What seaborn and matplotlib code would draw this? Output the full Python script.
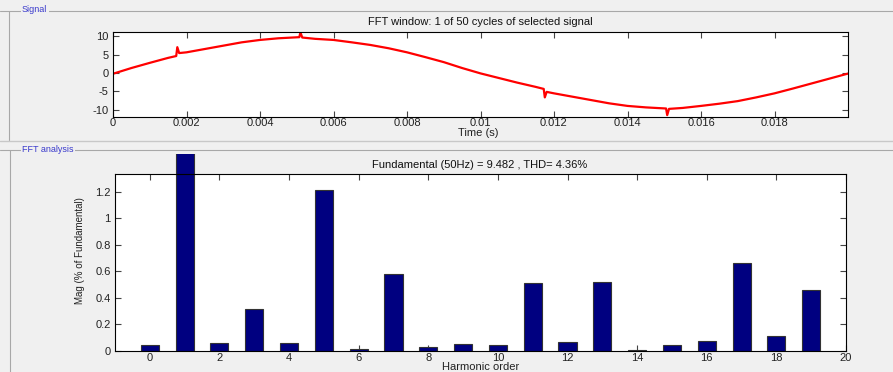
import matplotlib
matplotlib.use("Agg")
import matplotlib.pyplot as plt
from matplotlib.lines import Line2D
from matplotlib.patches import Rectangle
import seaborn as sns
import pandas as pd

# ---------------- data ----------------
sig_time = [0.0, 0.0005, 0.001, 0.0015, 0.00172, 0.00175, 0.0018, 0.002, 0.0025, 0.003,
            0.0035, 0.004, 0.0045, 0.00507, 0.0051, 0.00515, 0.0055, 0.006, 0.0065, 0.007,
            0.0075, 0.008, 0.0085, 0.009, 0.0095, 0.01, 0.0105, 0.011, 0.0115, 0.01172,
            0.01175, 0.0118, 0.012, 0.0125, 0.013, 0.0135, 0.014, 0.0145, 0.01505, 0.01508,
            0.01513, 0.0155, 0.016, 0.0165, 0.017, 0.0175, 0.018, 0.0185, 0.019, 0.0195, 0.02]
sig_value = [-0.2, 1.35, 2.75, 4.1, 4.6, 7.0, 5.4, 5.6, 6.5, 7.4,
             8.3, 8.95, 9.4, 9.7, 11.0, 9.6, 9.25, 8.95, 8.3, 7.6,
             6.7, 5.6, 4.3, 2.95, 1.35, -0.1, -1.35, -2.6, -3.75, -4.3,
             -6.6, -5.1, -5.5, -6.4, -7.3, -8.2, -8.9, -9.3, -9.6, -11.4,
             -9.7, -9.45, -8.9, -8.3, -7.6, -6.6, -5.5, -4.2, -2.85, -1.5, -0.15]

harmonic = list(range(20))
magnitude = [0.045, 100.0, 0.06, 0.315, 0.063, 1.215, 0.015, 0.579, 0.033, 0.053,
             0.045, 0.513, 0.068, 0.518, 0.005, 0.045, 0.073, 0.664, 0.113, 0.46]

sig_xticks = [0, 0.002, 0.004, 0.006, 0.008, 0.01, 0.012, 0.014, 0.016, 0.018]
sig_xticklabels = ["0", "0.002", "0.004", "0.006", "0.008", "0.01", "0.012", "0.014", "0.016", "0.018"]
sig_yticks = [-10, -5, 0, 5, 10]
fft_xticks = [0, 2, 4, 6, 8, 10, 12, 14, 16, 18, 20]
fft_yticks = [0, 0.2, 0.4, 0.6, 0.8, 1.0, 1.2]
fft_yticklabels = ["0", "0.2", "0.4", "0.6", "0.8", "1", "1.2"]

signal_title = "FFT window: 1 of 50 cycles of selected signal"
fft_title = "Fundamental (50Hz) = 9.482 , THD= 4.36%"

# ---------------- figure ----------------
sns.set_style("ticks")
plt.rcParams['font.family'] = ['Liberation Sans', 'DejaVu Sans']
plt.rcParams['axes.unicode_minus'] = False
W, H = 893, 372
BG = "#f0f0f0"
fig = plt.figure(figsize=(W / 100, H / 100), dpi=100, facecolor=BG)

def fx(px):
    return px / W

def fy(py):
    return 1 - py / H

# panel frames (group boxes)
frame_col = "#a8a8a8"
fig.add_artist(Line2D([fx(0), fx(W)], [fy(10.5), fy(10.5)], color=frame_col, lw=0.8))
fig.add_artist(Line2D([fx(9), fx(9)], [fy(10.5), fy(140)], color=frame_col, lw=0.8))
fig.add_artist(Line2D([fx(0), fx(W)], [fy(140.5), fy(140.5)], color="#c8c8c8", lw=1.0))
fig.add_artist(Line2D([fx(0), fx(W)], [fy(149.5), fy(149.5)], color=frame_col, lw=0.8))
fig.add_artist(Line2D([fx(10), fx(10)], [fy(149.5), fy(H)], color=frame_col, lw=0.8))
for txt, ypx in [("Signal", 9), ("FFT analysis", 149)]:
    fig.text(fx(22), fy(ypx), txt, color="#3a3acc", fontsize=6.5, ha="left", va="center",
             bbox=dict(facecolor=BG, edgecolor="none", pad=1.0))

tick_col = "#222222"

def style_axes(ax, xpad):
    ax.set_facecolor("white")
    for s in ax.spines.values():
        s.set_visible(True)
        s.set_color("black")
        s.set_linewidth(0.8)
    ax.tick_params(direction="in", length=4, width=0.8, colors="#444444",
                   labelcolor=tick_col, labelsize=8, top=True, right=True)
    ax.tick_params(axis="y", pad=3)
    ax.tick_params(axis="x", pad=xpad)

# ---- signal axes ----
ax1 = fig.add_axes([fx(113), fy(117), fx(848 - 113), (117 - 32) / H])
sig_df = pd.DataFrame({"t": sig_time, "v": sig_value})
sns.lineplot(data=sig_df, x="t", y="v", ax=ax1, color="#ff0000", lw=1.6, estimator=None)
ax1.set_xlim(0, 0.02)
ax1.set_ylim(-11.9, 11.1)
ax1.set_xticks(sig_xticks, sig_xticklabels)
ax1.set_yticks(sig_yticks)
style_axes(ax1, 1)
ax1.set_xlabel("Time (s)", fontsize=8, color=tick_col, va="center")
ax1.xaxis.set_label_coords(0.497, (117 - 133.5) / 85)
ax1.set_ylabel("")
fig.text(fx(480), fy(22), signal_title, fontsize=8, ha="center", va="center", color="#111111")

# ---- FFT axes ----
ax2 = fig.add_axes([fx(115), fy(351), fx(846 - 115), (351 - 174) / H])
fft_df = pd.DataFrame({"h": harmonic, "m": magnitude})
sns.barplot(data=fft_df, x="h", y="m", ax=ax2, native_scale=True, width=0.52,
            color="#000080", saturation=1, edgecolor="#333333", linewidth=0.8, errorbar=None)
ax2.set_xlim(-1, 20)
ax2.set_ylim(0, 1.335)
ax2.set_xticks(fft_xticks)
ax2.set_yticks(fft_yticks, fft_yticklabels)
style_axes(ax2, 1.5)
ax2.set_xlabel("Harmonic order", fontsize=8, color=tick_col, va="center")
ax2.xaxis.set_label_coords(0.5, (351 - 367.5) / 177)
ax2.set_ylabel("Mag (% of Fundamental)", fontsize=7, color=tick_col, va="center")
ax2.yaxis.set_label_coords((80 - 115) / 731, 0.565)
fig.text(fx(480), fy(165), fft_title, fontsize=8, ha="center", va="center", color="#111111")

# bars may extend above the axes (fundamental), clipped at panel top
clip_rect = Rectangle((fx(100), fy(351)), fx(760), fy(154) - fy(351),
                      transform=fig.transFigure, facecolor="none", edgecolor="none")
fig.add_artist(clip_rect)
for p in ax2.patches:
    p.set_clip_path(clip_rect)

fig.savefig("out.png", dpi=100, facecolor=BG)
